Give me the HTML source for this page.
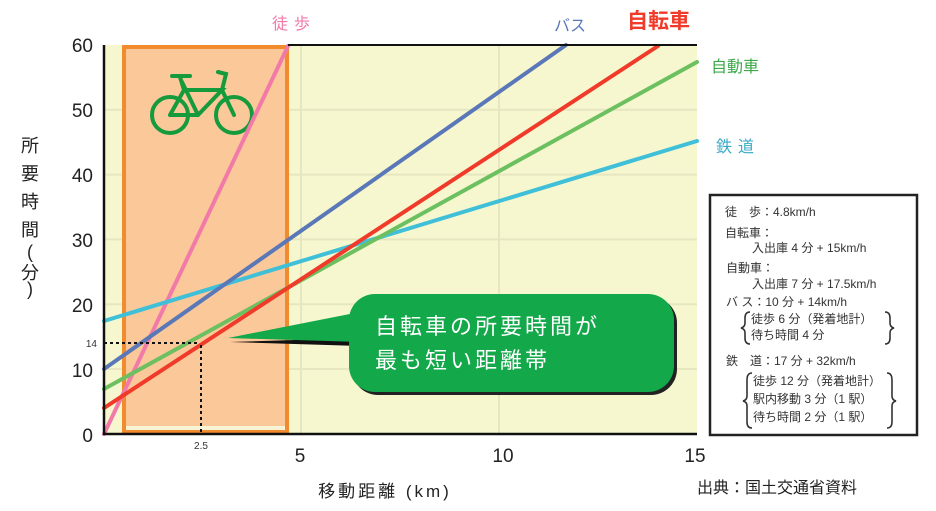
<!DOCTYPE html>
<html><head><meta charset="utf-8"><style>
html,body{margin:0;padding:0;background:#fff;}
svg{display:block;}
text{font-family:"Liberation Sans","Noto Sans CJK JP",sans-serif;}
</style></head><body>
<svg width="936" height="511" viewBox="0 0 936 511" xmlns="http://www.w3.org/2000/svg">
<rect x="104" y="45" width="593" height="389" fill="#f7f7cf"/>
<g stroke="#e6e6c0" stroke-width="2">
<line x1="104" y1="109.8" x2="697" y2="109.8"/><line x1="104" y1="174.6" x2="697" y2="174.6"/>
<line x1="104" y1="239.4" x2="697" y2="239.4"/><line x1="104" y1="304.2" x2="697" y2="304.2"/>
<line x1="104" y1="369" x2="697" y2="369"/>
<line x1="301" y1="45" x2="301" y2="434"/><line x1="499" y1="45" x2="499" y2="434"/>
</g>
<rect x="124" y="47" width="163" height="384" fill="#fbc899" stroke="#f28a2e" stroke-width="4"/>
<rect x="126" y="426" width="159" height="4" fill="#f7f3d5"/>
<!-- bicycle -->
<g stroke="#159a3c" stroke-width="4" fill="none" stroke-linecap="round">
<circle cx="170" cy="115" r="18"/><circle cx="234" cy="115" r="18"/>
<path d="M170 115 L198 115 L222 90 L184 90 L170 115 M184 90 L180 77 M172 76 L190 76 M198 115 L182 82 M222 90 L234 115 M222 90 L226 74 L218 72"/>
</g>
<!-- lines -->
<g stroke-width="4" fill="none" stroke-linecap="round">
<line x1="104" y1="434" x2="288" y2="46" stroke="#f27aa8"/>
<line x1="104" y1="321" x2="697" y2="141" stroke="#3fc0d8"/>
<line x1="104" y1="369" x2="566" y2="45" stroke="#5a78b8"/>
<line x1="104" y1="389" x2="697" y2="62" stroke="#6cc060"/>
<line x1="104" y1="408" x2="658" y2="46" stroke="#f03a2a"/>
</g>
<g stroke="#111" stroke-width="2" stroke-dasharray="3,3" fill="none">
<line x1="104" y1="343" x2="200" y2="343"/><line x1="201" y1="345" x2="201" y2="432"/>
</g>
<path d="M104 45 L104 434 L697 434" stroke="#111" stroke-width="2.5" fill="none"/>
<line x1="288" y1="45" x2="697" y2="45" stroke="#111" stroke-width="2"/>
<!-- callout -->
<path d="M230 342 L360 338 L360 346 Z" fill="#111"/>
<rect x="352" y="297" width="325" height="98" rx="26" fill="#222"/>
<rect x="349" y="294" width="325" height="98" rx="26" fill="#13a84a"/>
<path d="M228 338 L360 312 L360 342 Z" fill="#13a84a"/>
<text x="375" y="334" font-size="22" fill="#fff" letter-spacing="3">自転車の所要時間が</text>
<text x="375" y="368" font-size="22" fill="#fff" letter-spacing="3">最も短い距離帯</text>
<g font-size="19" fill="#222" text-anchor="end">
<text x="93" y="52">60</text><text x="93" y="117">50</text><text x="93" y="182">40</text>
<text x="93" y="247">30</text><text x="93" y="312">20</text><text x="93" y="377">10</text><text x="93" y="442">0</text>
</g>
<text x="97" y="347" font-size="10" fill="#333" text-anchor="end">14</text>
<text x="201" y="449" font-size="10" fill="#333" text-anchor="middle">2.5</text>
<g font-size="19" fill="#222" text-anchor="middle">
<text x="300" y="462">5</text><text x="503" y="462">10</text><text x="695" y="462">15</text>
</g>
<text x="385" y="497" font-size="17" fill="#222" text-anchor="middle" letter-spacing="3">移動距離 (km)</text>
<g font-size="18" fill="#222" text-anchor="middle">
<text x="30" y="152">所</text><text x="30" y="180">要</text><text x="30" y="208">時</text><text x="30" y="236">間</text>
<text x="30" y="258">(</text><text x="30" y="279">分</text><text x="30" y="295">)</text>
</g>
<text x="272" y="29" font-size="16" fill="#f27aa8" letter-spacing="6">徒歩</text>
<text x="554" y="31" font-size="16" fill="#5a78b8">バス</text>
<text x="627" y="28" font-size="21" font-weight="bold" fill="#f03a2a">自転車</text>
<text x="711" y="72" font-size="16" fill="#3ca84a">自動車</text>
<text x="716" y="152" font-size="16" fill="#3aaac8" letter-spacing="6">鉄道</text>
<!-- note box -->
<rect x="710" y="195" width="207" height="240" fill="#fff" stroke="#222" stroke-width="2.5"/>
<g font-size="12" fill="#333">
<text x="725" y="216">徒　歩：4.8km/h</text>
<text x="725" y="237">自転車：</text>
<text x="752" y="252">入出庫 4 分 + 15km/h</text>
<text x="726" y="272">自動車：</text>
<text x="752" y="288">入出庫 7 分 + 17.5km/h</text>
<text x="726" y="306">バ ス：10 分 + 14km/h</text>
<text x="751" y="323">徒歩 6 分（発着地計）</text>
<text x="751" y="339">待ち時間 4 分</text>
<text x="726" y="365">鉄　道：17 分 + 32km/h</text>
<text x="753" y="385">徒歩 12 分（発着地計）</text>
<text x="753" y="403">駅内移動 3 分（1 駅）</text>
<text x="753" y="421">待ち時間 2 分（1 駅）</text>
</g>
<g stroke="#333" stroke-width="1.6" fill="none">
<path d="M750 312 Q745 312 745 318 L745 323 Q745 327 741 328 Q745 329 745 333 L745 338 Q745 344 750 344"/>
<path d="M885 312 Q890 312 890 318 L890 323 Q890 327 894 328 Q890 329 890 333 L890 338 Q890 344 885 344"/>
<path d="M752 373 Q747 373 747 380 L747 396 Q747 400 743 401 Q747 402 747 406 L747 422 Q747 428 752 428"/>
<path d="M887 373 Q892 373 892 380 L892 396 Q892 400 896 401 Q892 402 892 406 L892 422 Q892 428 887 428"/>
</g>
<text x="697" y="493" font-size="16" fill="#222">出典：国土交通省資料</text>
</svg>
</body></html>
